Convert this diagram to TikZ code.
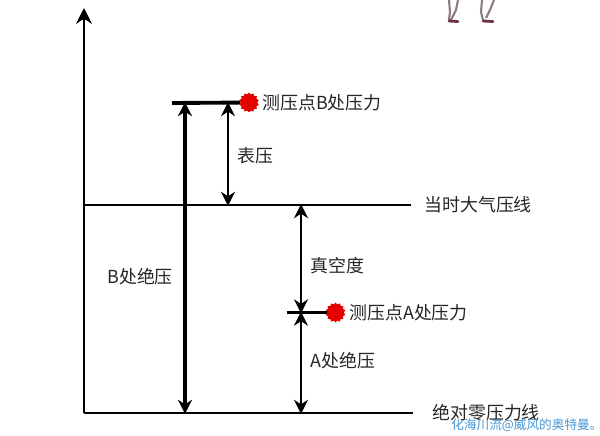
\documentclass[tikz,border=0pt]{standalone}
\usepackage{fontspec}
\setmainfont{Noto Sans CJK SC}
\usetikzlibrary{arrows.meta,shapes.geometric}
\definecolor{leggray}{RGB}{140,125,125}
\definecolor{footred}{RGB}{110,50,70}
\definecolor{markblue}{RGB}{70,150,215}
\tikzset{
  label/.style={inner sep=0pt,anchor=west,font=\fontsize{10.2}{12}\selectfont,text=black!85},
  redpoint/.style={star,star points=14,star point ratio=1.2,minimum size=20*0.02cm,inner sep=0pt,fill=red!90!black},
  level/.style={line width=1.7pt},
  span/.style={{Stealth[length=8pt,width=8pt]}-{Stealth[length=8pt,width=8pt]},line width=1.3pt,shorten <=-0.5pt,shorten >=-0.5pt},
}
\begin{document}
\begin{tikzpicture}[x=0.02cm,y=-0.02cm]
  \useasboundingbox (0,0) rectangle (600,436);
  \draw
    (84,413) coordinate (origin)
    (84,8) coordinate (top)
    (413,413) coordinate (zeroend)
    (84,205) coordinate (atmstart)
    (411,205) coordinate (atmend)
    (172,103) coordinate (bstart)
    (287,312.5) coordinate (astart)
    (185,103) coordinate (babstop)
    (185,413) coordinate (babsbottom)
    (228,103) coordinate (gaugetop)
    (228,205) coordinate (gaugebottom)
    (301,205) coordinate (vactop)
    (301,312.5) coordinate (vacbottom)
    (301,413) coordinate (aabsbottom);
  \node[redpoint] (bpoint) at (249,102.5) {};
  \node[redpoint] (apoint) at (335.5,312.5) {};
  \node[label] (bpressure) at (262,103) {测压点B处压力};
  \node[label] (apressure) at (349,313) {测压点A处压力};
  \node[label] (gauge) at (237,156) {表压};
  \node[label] (vacuum) at (310,266) {真空度};
  \node[label] (aabs) at (310,361) {A处绝压};
  \node[label] (babs) at (107,277) {B处绝压};
  \node[label] (atm) at (424,205) {当时大气压线};
  \node[label] (zero) at (432,413) {绝对零压力线};
  \node[label,text=markblue,font=\fontsize{7.2}{9}\selectfont] (mark) at (451,425) {化海川流@威风的奥特曼。};
  \begin{scope}[level]
    \draw (origin) -- (zeroend);
    \draw (atmstart) -- (atmend);
    \draw[line width=2.2pt] (bstart) -- (bpoint);
    \draw (astart) -- (apoint);
  \end{scope}
  \draw[-{Stealth[length=9pt,width=9pt]},line width=1.7pt] (origin) -- (top);
  \draw[span,line width=2.8pt] (babstop) -- (babsbottom);
  \draw[span] (gaugetop) -- (gaugebottom);
  \draw[span] (vactop) -- (vacbottom);
  \draw[span] (vacbottom) -- (aabsbottom);
  \begin{scope}[leggray,line width=1.2pt]
    \draw (449,0) -- (450,12) -- (449,20);
    \draw (458,0) -- (456,10) -- (451,20);
    \draw (482,0) -- (481,12) -- (483,20);
    \draw (494,0) -- (490,10) -- (486,18);
  \end{scope}
  \begin{scope}[footred,line width=1.6pt,line cap=round]
    \draw (449,21) -- (458,21.5);
    \draw (483,21) -- (493,21.5);
  \end{scope}
\end{tikzpicture}
\end{document}
